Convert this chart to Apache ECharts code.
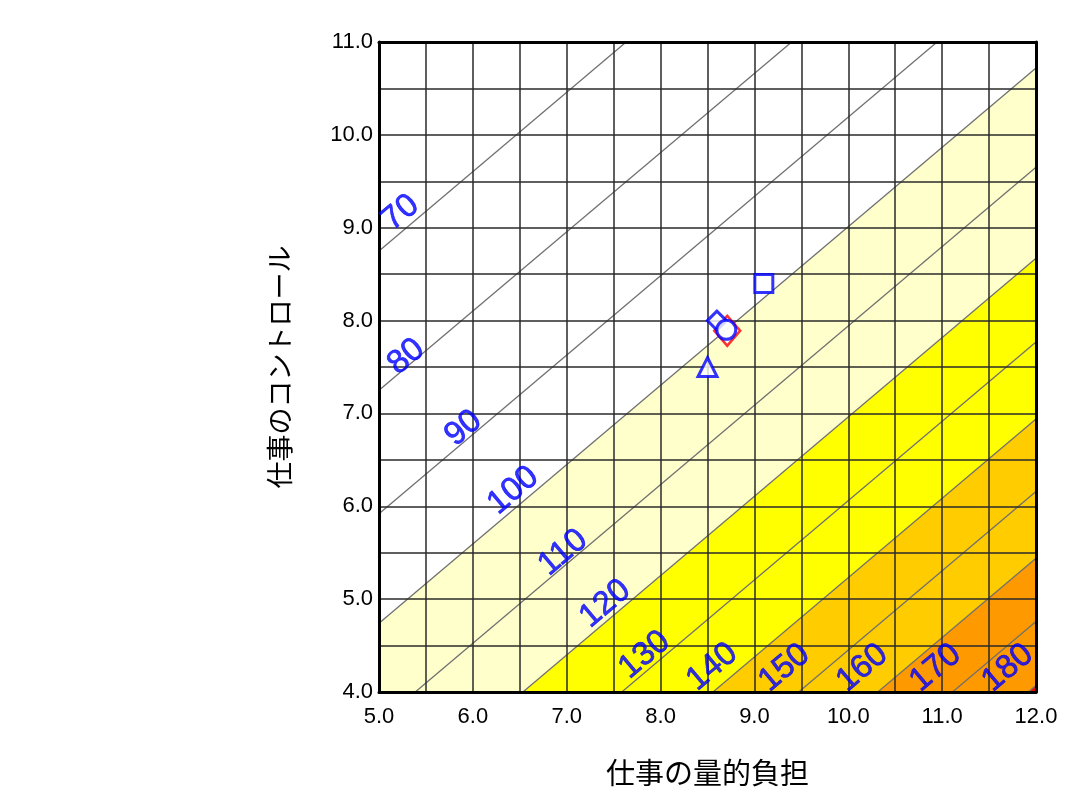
<!DOCTYPE html>
<html>
<head>
<meta charset="utf-8">
<script src="https://cdn.jsdelivr.net/npm/echarts@6/dist/echarts.min.js"></script>
<style>
  html, body { margin: 0; padding: 0; background: #fff; }
  #chart { width: 1070px; height: 803px; }
</style>
</head>
<body>
<div id="chart"></div>
<script>
// contour levels and where each line crosses x=5 and x=12
const levels = [70, 80, 90, 100, 110, 120, 130, 140, 150, 160, 170, 180];
const lineX = [5, 12];
const yAtLeft = [8.75, 7.25, 5.92, 4.74, 3.67, 2.69, 1.79, 0.96, 0.18, -0.54, -1.22, -1.91];
const yAtRight = [14.73, 13.22, 11.90, 10.72, 9.65, 8.67, 7.77, 6.94, 6.16, 5.44, 4.76, 4.07];

// shaded bands start at these levels
const bandLevels = [100, 120, 140, 160, 180];
const bandColors = ['#FFFFCC', '#FFFF00', '#FFCC00', '#FF9900', '#FF0000'];

// label positions for the contour numbers
const labelX = [5.23, 5.29, 5.90, 6.43, 6.96, 7.41, 7.83, 8.55, 9.32, 10.15, 10.93, 11.70];
const labelY = [9.16, 7.61, 6.84, 6.17, 5.50, 4.95, 4.40, 4.27, 4.26, 4.26, 4.26, 4.26];

// plotted groups (量的負担, コントロール)
const groupX = [9.1, 8.6, 8.7, 8.5];
const groupY = [8.4, 8.0, 7.9, 7.5];
const groupSymbols = ['rect', 'diamond', 'circle', 'triangle'];
const groupSizes = [18, 19, 19, 19];
// national average
const avgPoint = [8.71, 7.89];

const chart = echarts.init(document.getElementById('chart'));

const series = [];

levels.forEach(function (lv, i) {
  const bi = bandLevels.indexOf(lv);
  const s = {
    type: 'line',
    name: String(lv),
    data: [[lineX[0], yAtLeft[i]], [lineX[1], yAtRight[i]]],
    showSymbol: false,
    symbol: 'none',
    clip: true,
    silent: true,
    lineStyle: { color: '#707070', width: 1.3 },
    z: 2
  };
  if (bi >= 0) {
    s.areaStyle = { color: bandColors[bi], opacity: 1, origin: 'start' };
  }
  series.push(s);
});

// contour numbers
series.push({
  type: 'scatter',
  symbolSize: 1,
  itemStyle: { color: 'rgba(0,0,0,0)' },
  silent: true,
  z: 6,
  data: levels.map(function (lv, i) { return { value: [labelX[i], labelY[i]], name: String(lv) }; }),
  label: {
    show: true,
    position: 'inside',
    formatter: '{b}',
    rotate: 40,
    color: '#0000FF',
    fontSize: 33,
    textBorderColor: '#0000FF',
    textBorderWidth: 0.7,
    fontFamily: 'Liberation Sans, Arial, sans-serif'
  }
});

// national average (red diamond)
series.push({
  type: 'scatter',
  data: [avgPoint],
  symbol: 'diamond',
  symbolSize: [26, 30],
  itemStyle: { color: '#fff', borderColor: '#FF0000', borderWidth: 2.5 },
  z: 7
});

groupX.forEach(function (x, i) {
  series.push({
    type: 'scatter',
    data: [[x, groupY[i]]],
    symbol: groupSymbols[i],
    symbolSize: groupSizes[i],
    itemStyle: { color: '#fff', borderColor: '#0000FF', borderWidth: 3 },
    z: 8
  });
});

const labelFont = 'Liberation Sans, Arial, sans-serif';
const cjkFont = '"Noto Sans CJK JP", sans-serif';

chart.setOption({
  animation: false,
  grid: { left: 379, right: 34, top: 42, bottom: 111 },
  xAxis: [{
    type: 'value',
    min: 5,
    max: 12,
    interval: 0.5,
    z: 4,
    name: '仕事の量的負担',
    nameLocation: 'middle',
    nameGap: 66,
    nameTextStyle: { fontSize: 29, color: '#000', fontFamily: cjkFont },
    axisLine: { show: true, lineStyle: { color: '#000', width: 3 } },
    axisTick: { show: false },
    axisLabel: {
      margin: 14,
      fontSize: 22,
      color: '#000',
      fontFamily: labelFont,
      formatter: function (v) { return v % 1 === 0 ? v.toFixed(1) : ''; }
    },
    splitLine: { show: true, lineStyle: { color: '#2a2a2a', width: 1.5 } }
  }, {
    type: 'value',
    position: 'top',
    min: 5,
    max: 12,
    z: 4,
    axisLine: { show: true, onZero: false, lineStyle: { color: '#000', width: 3 } },
    axisTick: { show: false },
    axisLabel: { show: false },
    splitLine: { show: false }
  }],
  yAxis: [{
    type: 'value',
    min: 4,
    max: 11,
    interval: 0.5,
    z: 4,
    name: '仕事のコントロール',
    nameLocation: 'middle',
    nameRotate: 90,
    nameGap: 86,
    nameTextStyle: { fontSize: 27, color: '#000', fontFamily: cjkFont },
    axisLine: { show: true, lineStyle: { color: '#000', width: 3 } },
    axisTick: { show: false },
    axisLabel: {
      margin: 6,
      fontSize: 22,
      color: '#000',
      fontFamily: labelFont,
      formatter: function (v) { return v % 1 === 0 ? v.toFixed(1) : ''; }
    },
    splitLine: { show: true, lineStyle: { color: '#2a2a2a', width: 1.5 } }
  }, {
    type: 'value',
    position: 'right',
    min: 4,
    max: 11,
    z: 4,
    axisLine: { show: true, onZero: false, lineStyle: { color: '#000', width: 3 } },
    axisTick: { show: false },
    axisLabel: { show: false },
    splitLine: { show: false }
  }],
  series: series
});
</script>
</body>
</html>
